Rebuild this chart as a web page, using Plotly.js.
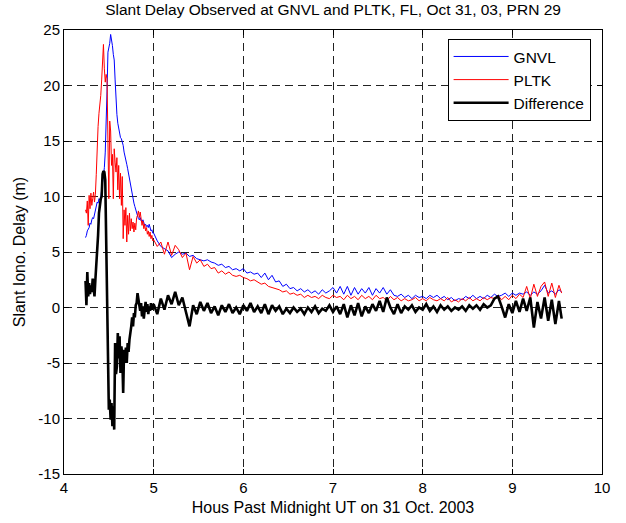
<!DOCTYPE html>
<html>
<head>
<meta charset="utf-8">
<script src="https://cdn.plot.ly/plotly-3.0.1.min.js"></script>
<style>html,body{margin:0;padding:0;background:#fff;}#chart{width:626px;height:523px;}</style>
</head>
<body>
<div id="chart"></div>
<script>
const hours = [
4.24,4.25,4.26,4.27,4.28,4.29,4.30,4.31,4.32,4.33,
4.34,4.35,4.36,4.37,4.38,4.39,4.40,4.41,4.42,4.43,
4.44,4.45,4.46,4.47,4.48,4.49,4.50,4.51,4.52,4.53,
4.54,4.55,4.56,4.57,4.58,4.59,4.60,4.61,4.62,4.63,
4.64,4.65,4.66,4.67,4.68,4.69,4.70,4.71,4.72,4.73,
4.74,4.75,4.76,4.77,4.78,4.79,4.80,4.81,4.82,4.83,
4.84,4.85,4.86,4.87,4.88,4.89,4.90,4.91,4.92,4.93,
4.94,4.95,4.96,4.97,4.98,4.99,
5.00,5.04,5.08,5.12,5.16,5.20,5.24,5.28,5.32,5.36,
5.40,5.44,5.48,5.52,5.56,5.60,5.64,5.68,5.72,5.76,
5.80,5.84,5.88,5.92,5.96,6.00,6.04,6.08,6.12,6.16,
6.20,6.24,6.28,6.32,6.36,6.40,6.44,6.48,6.52,6.56,
6.60,6.64,6.68,6.72,6.76,6.80,6.84,6.88,6.92,6.96,
7.00,7.04,7.08,7.12,7.16,7.20,7.24,7.28,7.32,7.36,
7.40,7.44,7.48,7.52,7.56,7.60,7.64,7.68,7.72,7.76,
7.80,7.84,7.88,7.92,7.96,8.00,8.04,8.08,8.12,8.16,
8.20,8.24,8.28,8.32,8.36,8.40,8.44,8.48,8.52,8.56,
8.60,8.64,8.68,8.72,8.76,8.80,8.84,8.88,8.92,8.96,
9.00,9.04,9.08,9.12,9.16,9.20,9.24,9.28,9.32,9.36,
9.40,9.44,9.48,9.52,9.55
];

const gnvl = [
6.3,6.5,6.9,7.0,7.2,7.6,7.5,7.9,8.1,8.0,
8.4,8.8,9.0,9.5,9.4,9.8,9.7,9.9,10.6,11.2,
12.0,12.6,14.0,16.0,19.5,23.0,23.4,23.8,24.6,24.2,
23.6,22.8,22.3,20.5,18.6,17.4,16.6,16.0,15.6,15.3,
15.2,14.9,14.6,14.0,13.5,13.2,12.9,12.5,12.0,11.7,
11.3,10.8,10.3,9.8,9.4,9.1,8.8,8.6,8.3,8.0,
7.9,8.1,7.8,7.7,7.9,7.6,7.4,7.5,7.3,7.4,
7.2,7.5,7.2,6.9,7.0,6.7,
6.7,6.0,5.5,5.3,5.1,4.5,4.8,5.0,4.8,4.9,
4.6,4.7,4.4,4.3,4.2,4.3,4.1,4.0,3.8,3.9,
3.6,3.7,3.4,3.5,3.3,3.5,3.1,3.2,3.0,3.1,
2.7,3.1,2.5,2.9,2.3,2.4,1.9,2.1,1.7,1.8,
1.5,1.7,1.4,1.6,1.3,1.5,1.2,1.6,1.3,1.5,
1.8,1.3,1.9,1.2,1.9,1.1,1.8,1.2,1.7,1.3,
1.8,1.1,1.7,1.3,1.8,1.2,1.6,1.1,1.0,1.2,
0.9,1.1,0.8,1.1,0.9,1.0,0.8,1.1,0.9,1.1,
0.8,1.0,0.7,0.9,0.6,0.8,0.7,1.0,0.8,1.1,
0.8,1.0,0.8,1.1,0.9,1.2,1.0,1.1,1.3,1.0,
1.3,1.1,1.3,1.2,1.4,1.1,1.4,1.2,1.5,2.0,
1.3,1.5,1.2,1.6,1.4
];

const pltk = [
8.8,8.5,9.6,7.4,10.1,8.9,10.3,9.2,9.8,10.4,
9.5,10.2,12.0,14.9,16.3,17.5,18.2,19.1,20.5,22.1,
23.7,21.5,20.3,21.0,20.6,14.9,9.8,16.8,15.9,12.8,
13.8,9.8,14.3,13.1,12.2,13.5,10.6,12.8,9.8,12.1,
9.2,11.8,6.2,8.8,7.4,9.0,5.9,8.3,6.6,8.5,
6.9,8.0,7.1,7.7,6.8,7.6,7.0,8.1,8.3,8.7,
8.1,8.6,7.9,7.4,7.8,7.1,7.5,6.9,7.2,6.6,
6.9,6.4,6.8,6.2,6.5,6.0,
6.1,5.5,5.9,4.8,5.9,4.7,5.6,5.2,4.5,4.9,
3.4,4.6,4.0,4.3,3.7,3.9,3.5,3.6,3.1,3.3,
3.0,3.2,2.9,2.8,2.9,2.7,2.6,2.4,2.5,2.3,
2.1,2.2,1.9,1.8,1.7,1.6,1.4,1.5,1.2,1.3,
1.1,1.2,0.9,1.1,0.9,1.0,0.8,1.1,0.9,0.8,
1.1,0.9,1.0,0.7,1.1,0.8,1.0,0.7,1.1,0.8,
1.0,0.7,1.1,0.8,0.9,0.6,1.0,0.7,0.9,0.6,
0.8,0.6,0.7,0.9,0.6,0.8,0.6,0.9,0.7,0.6,
0.8,0.6,0.9,0.5,0.7,0.5,0.8,0.6,0.9,0.6,
0.8,0.6,0.9,0.7,0.9,0.8,1.1,0.7,1.0,0.7,
1.1,0.8,1.2,0.9,1.9,0.8,2.1,1.0,1.9,2.3,
1.0,2.2,0.9,2.0,1.3
];

const difference = [
2.4,0.2,3.2,1.0,2.2,1.2,2.0,1.4,2.6,1.8,
1.0,2.5,3.6,4.6,6.5,8.5,9.6,9.8,10.0,12.0,
12.3,12.2,11.5,5.0,-1.0,-6.5,-9.2,-8.3,-10.1,-8.6,
-10.7,-8.9,-11.0,-3.2,-6.0,-5.3,-2.3,-4.6,-2.6,-5.9,
-3.5,-4.4,-7.7,-3.8,-5.0,-3.6,-5.0,-3.2,-4.0,-2.9,
-2.4,-1.7,-0.9,-1.7,-0.5,-0.9,0.2,0.4,1.3,0.9,
0.2,-0.3,0.4,-0.8,0.1,-1.0,-0.2,0.5,-0.4,0.3,
-0.6,0.1,-0.3,0.4,-0.2,0.2,
0.3,-0.6,0.8,-0.2,1.1,0.3,1.4,0.2,0.9,-0.4,
-1.7,0.2,-0.6,0.5,-0.3,0.4,-0.5,0.1,-0.7,0.2,
-0.4,0.3,-0.5,0.0,-0.6,0.2,-0.3,0.4,-0.4,0.1,
-0.5,0.3,-0.6,0.2,-0.3,0.1,-0.6,-0.1,-0.5,0.0,
-0.4,-0.1,-0.6,0.0,-0.4,0.1,-0.5,-0.1,-0.3,0.2,
-0.4,0.1,-0.6,0.3,-0.9,0.2,-0.7,0.4,-0.8,0.1,
-0.5,0.3,-0.3,0.6,-0.4,0.9,0.0,-0.6,0.3,-0.5,
0.1,-0.2,0.2,-0.4,0.0,-0.2,0.3,-0.3,0.1,-0.4,
0.2,-0.2,0.1,-0.3,0.0,-0.2,0.1,-0.3,0.2,-0.1,
0.2,-0.2,0.3,0.0,0.2,0.8,1.0,0.1,-0.9,0.3,
-0.5,0.6,-0.4,0.8,-0.3,0.9,-1.8,0.5,-1.0,0.9,
-1.2,0.7,-1.5,0.6,-1.0
];

const seriesNames = ["GNVL", "PLTK", "Difference"];
const xTicks = [4, 5, 6, 7, 8, 9, 10];
const yTicks = [-15, -10, -5, 0, 5, 10, 15, 20, 25];

const FONT = "Liberation Sans, Arial, Helvetica, sans-serif";

const traces = [
  {x: hours, y: gnvl, name: seriesNames[0], type: "scatter", mode: "lines",
   line: {color: "#0000ff", width: 1}},
  {x: hours, y: pltk, name: seriesNames[1], type: "scatter", mode: "lines",
   line: {color: "#ff0000", width: 1}},
  {x: hours, y: difference, name: seriesNames[2], type: "scatter", mode: "lines",
   line: {color: "#000000", width: 2.6}}
];

const axisCommon = {
  showgrid: true, gridcolor: "#222", gridwidth: 1, griddash: "8px,5px",
  showline: true, linecolor: "#000", linewidth: 1, mirror: "ticks",
  ticks: "inside", ticklen: 5, tickcolor: "#000", zeroline: false,
  tickfont: {family: FONT, size: 15, color: "#000"}
};

const layout = {
  width: 626, height: 523,
  margin: {l: 64, r: 24, t: 30, b: 49, pad: 0},
  paper_bgcolor: "#fff", plot_bgcolor: "#fff",
  font: {family: FONT, size: 15, color: "#000"},
  title: {text: "Slant Delay Observed at GNVL and PLTK, FL, Oct 31, 03, PRN 29",
          font: {family: FONT, size: 15.5, color: "#000"},
          xref: "paper", x: 0.5, xanchor: "center",
          yref: "container", y: 0.982, yanchor: "middle"},
  xaxis: Object.assign({}, axisCommon, {
    range: [4, 10], tickvals: xTicks, ticktext: xTicks.map(String),
    title: {text: "Hous Past Midnight UT on 31 Oct. 2003",
            font: {family: FONT, size: 16, color: "#000"}, standoff: 6}
  }),
  yaxis: Object.assign({}, axisCommon, {
    range: [-15, 25], tickvals: yTicks, ticktext: yTicks.map(String),
    title: {text: "Slant Iono. Delay (m)",
            font: {family: FONT, size: 16, color: "#000"}, standoff: 8}
  }),
  legend: {x: 0.713, y: 0.98, xanchor: "left", yanchor: "top",
           bgcolor: "#fff", bordercolor: "#000", borderwidth: 1,
           itemwidth: 55,
           font: {family: FONT, size: 15.5, color: "#000"}},
  showlegend: true
};

Plotly.newPlot("chart", traces, layout, {displayModeBar: false, staticPlot: true});
</script>
</body>
</html>
